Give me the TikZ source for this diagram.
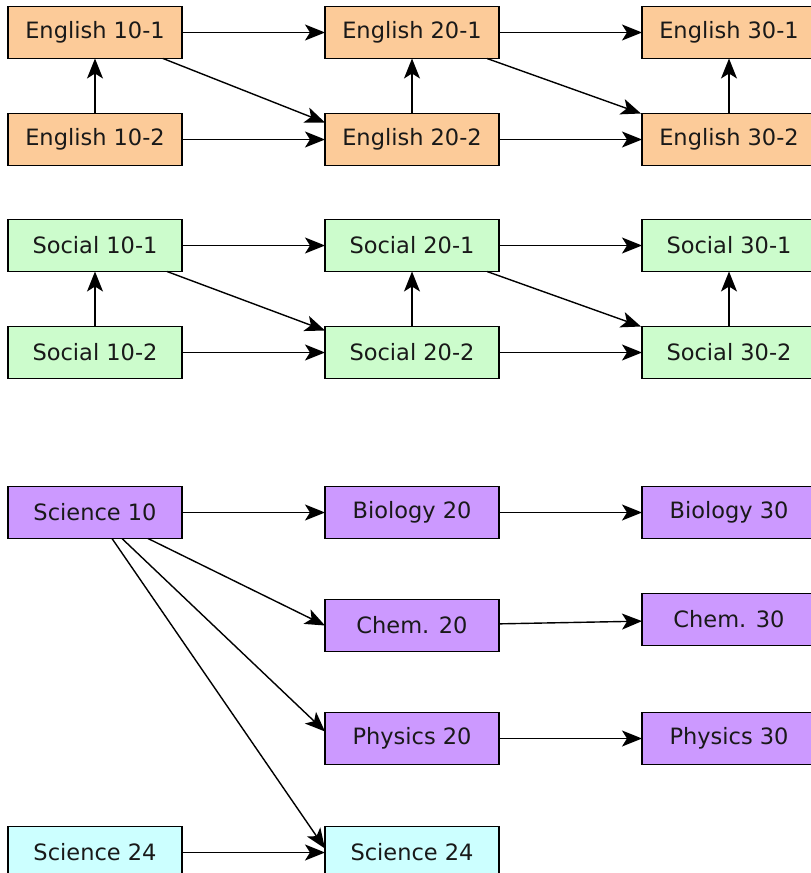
\documentclass[tikz,border=0pt]{standalone}
\usepackage{fontspec}
\setmainfont{DejaVu Sans}
\usetikzlibrary{positioning,arrows.meta}

\definecolor{engfill}{RGB}{252,203,153}
\definecolor{socfill}{RGB}{204,252,204}
\definecolor{scifill}{RGB}{204,153,255}
\definecolor{sciBfill}{RGB}{204,255,255}

\begin{document}
\begin{tikzpicture}[
    >={Stealth[length=20pt,width=16pt,inset=5pt]},
    x=1pt, y=1pt,
    node distance=55pt and 143pt,
    course/.style={
        rectangle,
        draw,
        line width=1.3pt,
        minimum width=174pt,
        minimum height=52pt,
        inner sep=0pt,
        outer sep=0pt,
        text=black!90,
        font=\fontsize{22.5}{26}\selectfont,},
    eng/.style={course, fill=engfill},
    soc/.style={course, fill=socfill},
    sci/.style={course, fill=scifill},
    sciB/.style={course, fill=sciBfill},
    pil/.style={
        ->,
        line width=1.4pt,}
]
\useasboundingbox (0,0) rectangle (811,-873);

% English
\node[eng] (eng101) at (95,-32.5) {English 10-1};
\node[eng,right=of eng101] (eng201) {English 20-1};
\node[eng,right=of eng201] (eng301) {English 30-1};
\node[eng,below=of eng101] (eng102) {English 10-2};
\node[eng,right=of eng102] (eng202) {English 20-2};
\node[eng,right=of eng202] (eng302) {English 30-2};

% Social
\node[soc,below=54pt of eng102] (soc101) {Social 10-1};
\node[soc,right=of soc101] (soc201) {Social 20-1};
\node[soc,right=of soc201] (soc301) {Social 30-1};
\node[soc,below=of soc101] (soc102) {Social 10-2};
\node[soc,right=of soc102] (soc202) {Social 20-2};
\node[soc,right=of soc202] (soc302) {Social 30-2};

% Science
\node[sci,below=108pt of soc102] (sci10) {Science 10};
\node[sci,right=of sci10] (bio20) {Biology 20};
\node[sci,right=of bio20] (bio30) {Biology 30};
\node[sci,below=61pt of bio20] (chem20) {Chem. 20};
\node[sci,below=of bio30] (chem30) {Chem. 30};
\node[sci,below=61pt of chem20] (phys20) {Physics 20};
\node[sci,right=of phys20] (phys30) {Physics 30};
\node[sciB,below=62pt of phys20] (sci24b) {Science 24};
\node[sciB,left=of sci24b] (sci24a) {Science 24};

\path[pil] (eng101) edge (eng201);
\path[pil] (eng201) edge (eng301);
\path[pil] (eng102) edge (eng202);
\path[pil] (eng202) edge (eng302);
\path[pil] (eng102) edge (eng101);
\path[pil] (eng202) edge (eng201);
\path[pil] (eng302) edge (eng301);
\path[pil] ([xshift=-19pt]eng101.south east) edge ([yshift=-9pt]eng202.north west);
\path[pil] ([xshift=-12pt]eng201.south east) edge ([xshift=-1pt]eng302.north west);

\path[pil] (soc101) edge (soc201);
\path[pil] (soc201) edge (soc301);
\path[pil] (soc102) edge (soc202);
\path[pil] (soc202) edge (soc302);
\path[pil] (soc102) edge (soc101);
\path[pil] (soc202) edge (soc201);
\path[pil] (soc302) edge (soc301);
\path[pil] ([xshift=-15pt]soc101.south east) edge ([yshift=-4pt]soc202.north west);
\path[pil] ([xshift=-12pt]soc201.south east) edge ([xshift=-1pt]soc302.north west);

\path[pil] (sci10) edge (bio20);
\path[pil] (bio20) edge (bio30);
\path[pil] (chem20) edge (chem30);
\path[pil] (phys20) edge (phys30);
\path[pil] ([xshift=53pt]sci10.south) edge (chem20.west);
\path[pil] ([xshift=27pt]sci10.south) edge ([yshift=7pt]phys20.west);
\path[pil] ([xshift=17pt]sci10.south) edge ([yshift=4pt]sci24b.west);
\path[pil] (sci24a) edge (sci24b);

\end{tikzpicture}
\end{document}
